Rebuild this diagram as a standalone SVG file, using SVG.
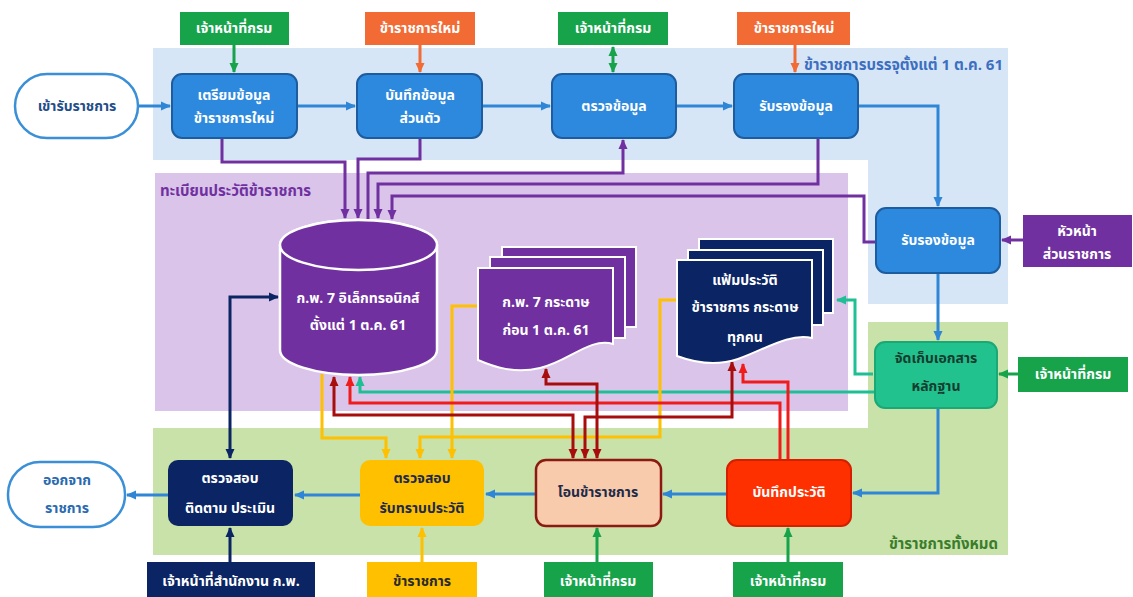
<svg xmlns="http://www.w3.org/2000/svg" width="1133" height="597" viewBox="0 0 1133 597">
<style>
text{font-family:"Noto Sans Thai","Noto Sans Thai UI","Tahoma","Leelawadee UI","DejaVu Sans",sans-serif;font-weight:bold;font-size:14px;text-anchor:middle}
.w{fill:#ffffff}
.blue{fill:#2d89dd;stroke:#1d5c9e;stroke-width:2}
.c{fill:none;stroke-width:3;stroke-linejoin:miter}
.cb{stroke:#2f86d6}
.cg{stroke:#16a34a}
.co{stroke:#f26a34}
.cp{stroke:#7030a0}
.cn{stroke:#0b2463}
.cy{stroke:#ffc000}
.ct{stroke:#1fbf95}
.cr{stroke:#a80d0d}
.crr{stroke:#f01c1c}
.region{font-size:15px;text-anchor:start}
</style>
<defs>
<marker id="ab" viewBox="0 0 10 10" refX="9" refY="5" markerWidth="10" markerHeight="10" markerUnits="userSpaceOnUse" orient="auto-start-reverse"><path d="M0,0.5 L10,5 L0,9.5 z" fill="#2f86d6"/></marker>
<marker id="ag" viewBox="0 0 10 10" refX="9" refY="5" markerWidth="10" markerHeight="10" markerUnits="userSpaceOnUse" orient="auto-start-reverse"><path d="M0,0.5 L10,5 L0,9.5 z" fill="#16a34a"/></marker>
<marker id="ao" viewBox="0 0 10 10" refX="9" refY="5" markerWidth="10" markerHeight="10" markerUnits="userSpaceOnUse" orient="auto-start-reverse"><path d="M0,0.5 L10,5 L0,9.5 z" fill="#f26a34"/></marker>
<marker id="ap" viewBox="0 0 10 10" refX="9" refY="5" markerWidth="10" markerHeight="10" markerUnits="userSpaceOnUse" orient="auto-start-reverse"><path d="M0,0.5 L10,5 L0,9.5 z" fill="#7030a0"/></marker>
<marker id="an" viewBox="0 0 10 10" refX="9" refY="5" markerWidth="10" markerHeight="10" markerUnits="userSpaceOnUse" orient="auto-start-reverse"><path d="M0,0.5 L10,5 L0,9.5 z" fill="#0b2463"/></marker>
<marker id="ay" viewBox="0 0 10 10" refX="9" refY="5" markerWidth="10" markerHeight="10" markerUnits="userSpaceOnUse" orient="auto-start-reverse"><path d="M0,0.5 L10,5 L0,9.5 z" fill="#ffc000"/></marker>
<marker id="at" viewBox="0 0 10 10" refX="9" refY="5" markerWidth="10" markerHeight="10" markerUnits="userSpaceOnUse" orient="auto-start-reverse"><path d="M0,0.5 L10,5 L0,9.5 z" fill="#1fbf95"/></marker>
<marker id="ar" viewBox="0 0 10 10" refX="9" refY="5" markerWidth="10" markerHeight="10" markerUnits="userSpaceOnUse" orient="auto-start-reverse"><path d="M0,0.5 L10,5 L0,9.5 z" fill="#a80d0d"/></marker>
<marker id="arr" viewBox="0 0 10 10" refX="9" refY="5" markerWidth="10" markerHeight="10" markerUnits="userSpaceOnUse" orient="auto-start-reverse"><path d="M0,0.5 L10,5 L0,9.5 z" fill="#f01c1c"/></marker>
</defs>
<rect width="1133" height="597" fill="#ffffff"/>

<g id="regions">
<path d="M153,48 H1008 V304 H868 V160 H153 Z" fill="#d7e6f7"/>
<path d="M153,428 H868 V322 H1008 V555 H153 Z" fill="#c8e2a9"/>
<rect x="155" y="173" width="693" height="238" fill="#dbc4ea"/>
<text class="region" x="1003" y="70" style="text-anchor:end;fill:#3d6fc0">ข้าราชการบรรจุตั้งแต่ 1 ต.ค. 61</text>
<text class="region" x="160" y="196" style="fill:#7030a0">ทะเบียนประวัติข้าราชการ</text>
<text class="region" x="998" y="549" style="text-anchor:end;fill:#3b7d2c">ข้าราชการทั้งหมด</text>
</g>

<g id="connectors">
<path class="c cb" d="M138,106 H170" marker-end="url(#ab)"/>
<path class="c cb" d="M297,106 H355" marker-end="url(#ab)"/>
<path class="c cb" d="M482,106 H550" marker-end="url(#ab)"/>
<path class="c cb" d="M676,106 H732" marker-end="url(#ab)"/>
<path class="c cb" d="M858,106 H938 V206" marker-end="url(#ab)"/>
<path class="c cb" d="M938,273 V340" marker-end="url(#ab)"/>
<path class="c cb" d="M938,408 V493 H853" marker-end="url(#ab)"/>
<path class="c cb" d="M727,494 H663" marker-end="url(#ab)"/>
<path class="c cb" d="M536,494 H486" marker-end="url(#ab)"/>
<path class="c cb" d="M360,495 H295" marker-end="url(#ab)"/>
<path class="c cb" d="M168,495 H127" marker-end="url(#ab)"/>

<path class="c cg" d="M234,45 V72" marker-end="url(#ag)"/>
<path class="c cg" d="M613,47 V72" marker-start="url(#ag)" marker-end="url(#ag)"/>
<path class="c cg" d="M1018,374 H999" marker-end="url(#ag)"/>
<path class="c cg" d="M597,562 V528" marker-end="url(#ag)"/>
<path class="c cg" d="M788,562 V528" marker-end="url(#ag)"/>
<path class="c co" d="M420,45 V72" marker-end="url(#ao)"/>
<path class="c co" d="M795,45 V72" marker-end="url(#ao)"/>
<path class="c cp" d="M1023,240 H1002" marker-end="url(#ap)"/>
<path class="c cn" d="M230,562 V528" marker-end="url(#an)"/>
<path class="c cy" d="M422,562 V528" marker-end="url(#ay)"/>

<path class="c cp" d="M222,138 V162 H345 V218" marker-end="url(#ap)"/>
<path class="c cp" d="M420,138 V159 H358 V218" marker-end="url(#ap)"/>
<path class="c cp" d="M368,220 V173 H623 V140" marker-end="url(#ap)"/>
<path class="c cp" d="M818,138 V184 H378 V218" marker-end="url(#ap)"/>
<path class="c cp" d="M876,242 H864 V196 H392 V219" marker-end="url(#ap)"/>

<path class="c cn" d="M230,458 V297 H278" marker-start="url(#an)" marker-end="url(#an)"/>

<path class="c ct" d="M873,374 H855 V300 H837" marker-end="url(#at)"/>
<path class="c ct" d="M875,392 H360 V377" marker-end="url(#at)"/>

<path class="c cy" d="M322,374 V438 H386 V458" marker-end="url(#ay)"/>
<path class="c cy" d="M477,306 H452 V458" marker-end="url(#ay)"/>
<path class="c cy" d="M677,300 H660 V437 H420 V458" marker-end="url(#ay)"/>

<path class="c crr" d="M780,460 V403 H350 V377" marker-end="url(#arr)"/>
<path class="c crr" d="M788,460 V382 H743 V364" marker-end="url(#arr)"/>

<path class="c cr" d="M334,377 V415 H573 V458" marker-start="url(#ar)" marker-end="url(#ar)"/>
<path class="c cr" d="M732,362 V417 H585 V458" marker-start="url(#ar)" marker-end="url(#ar)"/>
<path class="c cr" d="M546,369 V384 H597 V458" marker-start="url(#ar)" marker-end="url(#ar)"/>
</g>

<g id="n-start">
<rect x="15" y="74" width="123" height="64" rx="32" fill="#ffffff" stroke="#3a8fd6" stroke-width="2.5"/>
<text x="77" y="111" style="fill:#1f4e89">เข้ารับราชการ</text>
</g>
<g id="n-prepare">
<rect class="blue" x="172" y="74" width="125" height="64" rx="10"/>
<text class="w" x="234" y="100">เตรียมข้อมูล</text>
<text class="w" x="234" y="123">ข้าราชการใหม่</text>
</g>
<g id="n-record">
<rect class="blue" x="357" y="74" width="125" height="64" rx="10"/>
<text class="w" x="420" y="100">บันทึกข้อมูล</text>
<text class="w" x="420" y="123">ส่วนตัว</text>
</g>
<g id="n-check">
<rect class="blue" x="552" y="74" width="124" height="64" rx="10"/>
<text class="w" x="614" y="111">ตรวจข้อมูล</text>
</g>
<g id="n-certify1">
<rect class="blue" x="734" y="74" width="124" height="64" rx="10"/>
<text class="w" x="796" y="111">รับรองข้อมูล</text>
</g>
<g id="n-certify2">
<rect class="blue" x="876" y="208" width="124" height="65" rx="10"/>
<text class="w" x="938" y="245">รับรองข้อมูล</text>
</g>

<g id="l-staff1"><rect x="180" y="12" width="109" height="33" fill="#16a34a"/><text class="w" x="234" y="33">เจ้าหน้าที่กรม</text></g>
<g id="l-new1"><rect x="365" y="12" width="110" height="33" fill="#f26a34"/><text class="w" x="420" y="33">ข้าราชการใหม่</text></g>
<g id="l-staff2"><rect x="558" y="12" width="110" height="33" fill="#16a34a"/><text class="w" x="613" y="33">เจ้าหน้าที่กรม</text></g>
<g id="l-new2"><rect x="737" y="12" width="113" height="33" fill="#f26a34"/><text class="w" x="794" y="33">ข้าราชการใหม่</text></g>
<g id="l-head"><rect x="1023" y="215" width="109" height="52" fill="#7030a0"/><text class="w" x="1077" y="236">หัวหน้า</text><text class="w" x="1077" y="259">ส่วนราชการ</text></g>
<g id="l-staff3"><rect x="1018" y="357" width="110" height="35" fill="#16a34a"/><text class="w" x="1073" y="379">เจ้าหน้าที่กรม</text></g>

<g id="n-archive">
<rect x="875" y="342" width="122" height="66" rx="10" fill="#21c28e" stroke="#1aa877" stroke-width="2"/>
<text x="936" y="363" style="fill:#143d2f">จัดเก็บเอกสาร</text>
<text x="936" y="391" style="fill:#143d2f">หลักฐาน</text>
</g>

<g id="n-db">
<path d="M280,245 V350 A78.5,25 0 0 0 437,350 V245 A78.5,25 0 0 0 280,245 Z" fill="#7030a0" stroke="#ffffff" stroke-width="2.5"/>
<ellipse cx="358.5" cy="245" rx="78.5" ry="25" fill="#7030a0" stroke="#ffffff" stroke-width="2.5"/>
<text class="w" x="358" y="303">ก.พ. 7 อิเล็กทรอนิกส์</text>
<text class="w" x="358" y="330">ตั้งแต่ 1 ต.ค. 61</text>
</g>

<g id="n-paper">
<rect x="502" y="247" width="134" height="80" fill="#7030a0" stroke="#ffffff" stroke-width="2"/>
<rect x="490" y="257" width="135" height="81" fill="#7030a0" stroke="#ffffff" stroke-width="2"/>
<path d="M478,268 H613 V344 C590,337 568,362 540,368 C515,374 494,367 478,360 Z" fill="#7030a0" stroke="#ffffff" stroke-width="2"/>
<text class="w" x="546" y="307">ก.พ. 7 กระดาษ</text>
<text class="w" x="546" y="335">ก่อน 1 ต.ค. 61</text>
</g>

<g id="n-file">
<rect x="699" y="239" width="134" height="74" fill="#0b2463" stroke="#ffffff" stroke-width="2"/>
<rect x="688" y="250" width="135" height="75" fill="#0b2463" stroke="#ffffff" stroke-width="2"/>
<path d="M677,260 H812 V338 C788,333 764,350 738,359 C714,367 693,362 677,356 Z" fill="#0b2463" stroke="#ffffff" stroke-width="2"/>
<text class="w" x="745" y="285">แฟ้มประวัติ</text>
<text class="w" x="745" y="312">ข้าราชการ กระดาษ</text>
<text class="w" x="745" y="342">ทุกคน</text>
</g>

<g id="n-exit">
<rect x="8" y="462" width="117" height="65" rx="32" fill="#ffffff" stroke="#3a8fd6" stroke-width="2.5"/>
<text x="67" y="485" style="fill:#2a6ab0">ออกจาก</text>
<text x="67" y="513" style="fill:#2a6ab0">ราชการ</text>
</g>
<g id="n-monitor">
<rect x="168" y="460" width="125" height="66" rx="10" fill="#0b2463"/>
<text class="w" x="230" y="483">ตรวจสอบ</text>
<text class="w" x="230" y="513">ติดตาม ประเมิน</text>
</g>
<g id="n-acknowledge">
<rect x="360" y="460" width="124" height="66" rx="10" fill="#ffc000"/>
<text x="422" y="483" style="fill:#1e2a48">ตรวจสอบ</text>
<text x="422" y="513" style="fill:#1e2a48">รับทราบประวัติ</text>
</g>
<g id="n-transfer">
<rect x="536" y="460" width="125" height="66" rx="10" fill="#f8cbad" stroke="#8b1a12" stroke-width="2.5"/>
<text x="598" y="497" style="fill:#1e2a48">โอนข้าราชการ</text>
</g>
<g id="n-history">
<rect x="727" y="460" width="124" height="66" rx="10" fill="#ff3000" stroke="#d41f00" stroke-width="2"/>
<text class="w" x="789" y="497">บันทึกประวัติ</text>
</g>

<g id="l-ocsc"><rect x="147" y="562" width="168" height="35" fill="#0b2463"/><text class="w" x="231" y="586">เจ้าหน้าที่สำนักงาน ก.พ.</text></g>
<g id="l-official"><rect x="367" y="562" width="110" height="35" fill="#ffc000"/><text x="422" y="586" style="fill:#2a2a2a">ข้าราชการ</text></g>
<g id="l-staff4"><rect x="544" y="562" width="109" height="35" fill="#16a34a"/><text class="w" x="598" y="586">เจ้าหน้าที่กรม</text></g>
<g id="l-staff5"><rect x="733" y="562" width="110" height="35" fill="#16a34a"/><text class="w" x="788" y="586">เจ้าหน้าที่กรม</text></g>
</svg>
